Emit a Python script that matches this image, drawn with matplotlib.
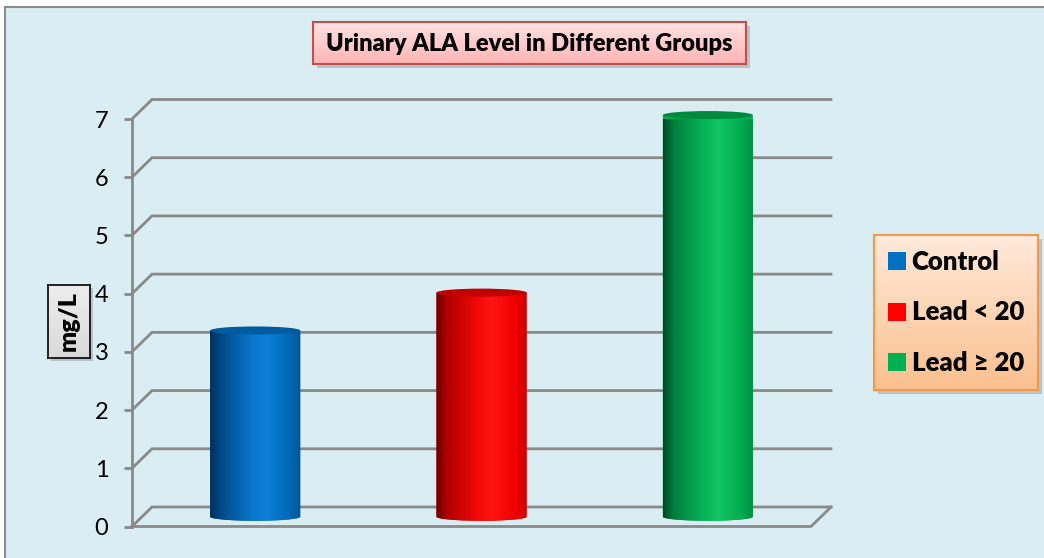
import numpy as np
import matplotlib
matplotlib.use('Agg')
import matplotlib.pyplot as plt
from matplotlib.patches import Rectangle, Ellipse, PathPatch, Patch
from matplotlib.path import Path
from matplotlib.colors import to_rgb

# ---- data ----
categories = ['Control', 'Lead < 20', 'Lead \u2265 20']
values = [3.2, 3.85, 6.9]
yticks = [0, 1, 2, 3, 4, 5, 6, 7]
bar_colors = ['#0070C0', '#FF0000', '#00B050']
title_text = 'Urinary ALA Level in Different Groups'
ylabel_text = 'mg/L'

# ---- styling ----
FONT = ['Lato', 'DejaVu Sans']
plt.rcParams['font.family'] = FONT
W, H = 1044, 558
fig = plt.figure(figsize=(W / 100, H / 100), dpi=100)
fig.patch.set_facecolor('white')


def fr(x0, y0, x1, y1):
    return [x0 / W, 1 - y1 / H, (x1 - x0) / W, (y1 - y0) / H]


def add_shadow(x0, y0, x1, y1, z, off=4):
    fig.add_artist(Rectangle(((x0 + off) / W, 1 - (y1 + off) / H), (x1 - x0) / W, (y1 - y0) / H,
                             transform=fig.transFigure, facecolor='#7a7a7a', alpha=0.35,
                             edgecolor='none', zorder=z))


# chart area background
fig.add_artist(Rectangle((5 / W, -0.1), 1.2, 1.1 - 7 / H, transform=fig.transFigure,
                         facecolor='#DAEDF3', edgecolor='#8C8C8C', lw=1.5, zorder=-5))

# main axes = front plane
ax = fig.add_axes(fr(132, 119, 811, 526.5))
ax.set_facecolor('none')
ax.set_zorder(1)
ax.set_xlim(-0.5, 2.5)
ax.set_ylim(0, 7)
for s in ['top', 'right', 'bottom']:
    ax.spines[s].set_visible(False)
GRID = '#898989'
ax.spines['left'].set_color(GRID)
ax.spines['left'].set_linewidth(2)
ax.set_yticks(yticks)
ax.set_yticklabels([str(t) for t in yticks])
ax.set_xticks([])
ax.tick_params(axis='y', length=6, width=2, color=GRID, labelsize=17, pad=11, labelcolor='black')

DX = 20 / (679 / 3)
DY = 19.5 / (407.5 / 7)

# back wall grid lines with diagonals
for t in yticks:
    ax.plot([-0.5, -0.5 + DX, 2.5 + DX], [t, t + DY, t + DY], color=GRID, lw=2,
            clip_on=False, zorder=1, solid_joinstyle='miter')
# floor front and right edges
ax.plot([-0.5, 2.5, 2.5 + DX], [0, 0, DY], color=GRID, lw=2, clip_on=False, zorder=1)

# cylinders
grad_stops = [0.0, 0.12, 0.45, 0.62, 0.88, 1.0]
shades = {
    '#0070C0': (['#002F58', '#004A88', '#0A74C8', '#0C80DA', '#0067B2', '#005596'], '#005C9E'),
    '#FF0000': (['#640000', '#B00000', '#F20808', '#FF1414', '#EE0000', '#CC0000'], '#C20000'),
    '#00B050': (['#004A24', '#007E3E', '#08B458', '#12C664', '#00A84E', '#008E42'], '#008A3E'),
}
w = 0.199
h = 0.069
for i, (v, c) in enumerate(zip(values, bar_colors)):
    xc = i + DX / 2
    yb = DY / 2
    tt = np.linspace(np.pi, 2 * np.pi, 60)
    verts = [(xc - w, yb + v), (xc - w, yb)] + \
            [(xc + w * np.cos(a), yb + h * np.sin(a)) for a in tt] + \
            [(xc + w, yb + v), (xc - w, yb + v)]
    codes = [Path.MOVETO] + [Path.LINETO] * (len(verts) - 2) + [Path.CLOSEPOLY]
    body = PathPatch(Path(verts, codes), facecolor=c, edgecolor='none', zorder=3, clip_on=False)
    ax.add_patch(body)
    cols, topc = shades[c]
    rgb = np.array([to_rgb(cc) for cc in cols])
    xs = np.linspace(0, 1, 200)
    g = np.stack([np.interp(xs, grad_stops, rgb[:, k]) for k in range(3)], axis=-1)
    im = ax.imshow(g[np.newaxis, :, :], extent=[xc - w, xc + w, yb - h, yb + v],
                   aspect='auto', zorder=3.1, interpolation='bilinear')
    im.set_clip_path(body)
    ax.add_patch(Ellipse((xc, yb + v), 2 * w, 2 * h, facecolor=topc, edgecolor='none',
                         zorder=4, clip_on=False))

ax.set_xlim(-0.5, 2.5)
ax.set_ylim(0, 7)


def gradient_axes(rect_px, top, bottom, edge, lw, z):
    a = fig.add_axes(fr(*rect_px))
    a.set_zorder(z)
    rgb = np.array([to_rgb(top), to_rgb(bottom)])
    ys = np.linspace(0, 1, 100)
    g = np.stack([np.interp(ys, [0, 1], rgb[:, k]) for k in range(3)], axis=-1)
    a.imshow(g[:, np.newaxis, :], aspect='auto', extent=[0, 1, 0, 1], interpolation='bilinear')
    a.set_xlim(0, 1)
    a.set_ylim(0, 1)
    a.set_xticks([])
    a.set_yticks([])
    for s in a.spines.values():
        s.set_color(edge)
        s.set_linewidth(lw)
    return a


# title box
add_shadow(313, 22, 746, 64, 4)
at = gradient_axes((313, 22, 746, 64), '#FFE2E2', '#FFB4B4', '#C0504D', 1.5, 5)
at.text(0.5, 0.47, title_text, ha='center', va='center', fontsize=17, fontweight='heavy',
        color='black', transform=at.transAxes)

# y label box
add_shadow(48, 285, 90, 358, 4, off=3)
ay = gradient_axes((48, 285, 90, 358), '#EDEDED', '#DADADA', 'black', 1.2, 5)
ay.text(0.5, 0.5, ylabel_text, ha='center', va='center', rotation=90, fontsize=18,
        fontweight='heavy', color='black', transform=ay.transAxes)

# legend box
add_shadow(874, 235, 1038, 390, 4)
al = gradient_axes((874, 235, 1038, 390), '#FFEADB', '#FAC08E', '#F79646', 1.5, 5)
handles = [Patch(facecolor=c, edgecolor='none') for c in bar_colors]
al.legend(handles, categories, loc='center left', bbox_to_anchor=(14 / 164, 0.5),
          frameon=False, borderpad=0, borderaxespad=0, handlelength=0.7,
          handleheight=0.7, handletextpad=0.22, labelspacing=1.05,
          prop={'family': FONT, 'weight': 'heavy', 'size': 18.5})

fig.savefig('out.png', dpi=100, facecolor=fig.get_facecolor())
